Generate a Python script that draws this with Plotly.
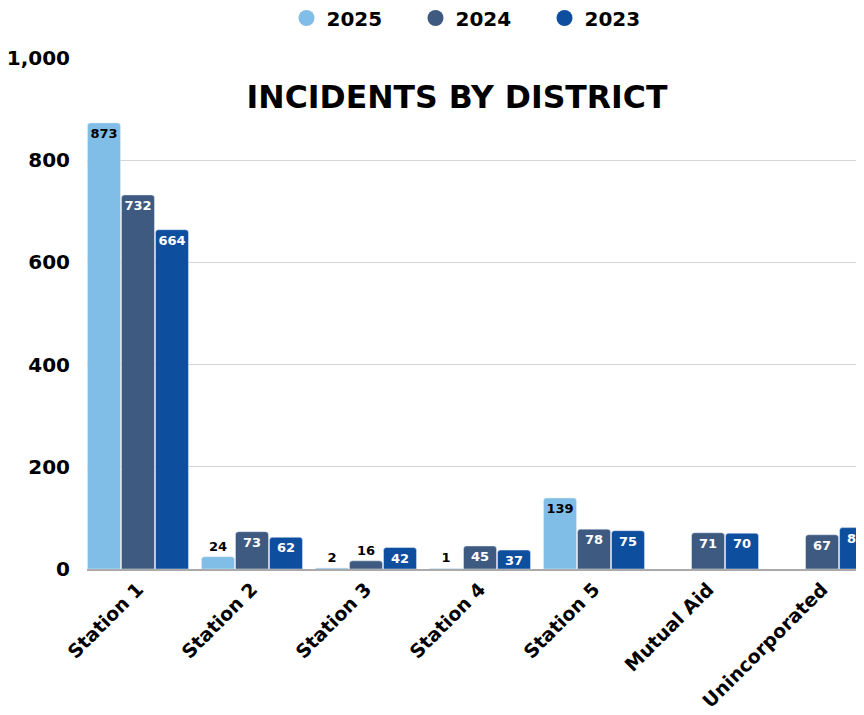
import plotly.graph_objects as go

categories = ["Station 1", "Station 2", "Station 3", "Station 4", "Station 5", "Mutual Aid", "Unincorporated"]
series_names = ["2025", "2024", "2023"]
values_2025 = [873, 24, 2, 1, 139, None, None]
values_2024 = [732, 73, 16, 45, 78, 71, 67]
values_2023 = [664, 62, 42, 37, 75, 70, 81]
y_ticks = [0, 200, 400, 600, 800, 1000]

colors = ["#80BDE7", "#3E5A80", "#0E4E9F"]
inside_text_colors = ["#000000", "#FFFFFF", "#FFFFFF"]
FONT = "DejaVu Sans"

OFF = 8  # page body margin offset
W, H = 864 - OFF, 715 - OFF

fig = go.Figure()
for name, vals, col, tcol in zip(series_names, [values_2025, values_2024, values_2023], colors, inside_text_colors):
    positions = ["inside" if (v is not None and v >= 30) else "outside" for v in vals]
    fig.add_trace(go.Bar(
        x=categories, y=vals, name=name, marker_color=col,
        text=[("" if v is None else str(v)) for v in vals],
        textposition=positions, insidetextanchor="end", textangle=0,
        insidetextfont=dict(color=tcol, size=13, family=FONT, weight="bold"),
        outsidetextfont=dict(color="#000000", size=13, family=FONT, weight="bold"),
        constraintext="none", showlegend=False,
        hoverinfo="x+y+name",
    ))
    fig.add_trace(go.Scatter(
        x=[None], y=[None], mode="markers", name=name,
        marker=dict(symbol="circle", size=22, color=col), showlegend=True,
    ))

fig.update_layout(
    width=W, height=H,
    paper_bgcolor="white", plot_bgcolor="white",
    margin=dict(l=87 - OFF, r=0, t=58 - OFF, b=H - (569 - OFF)),
    barmode="group", bargap=0.105, bargroupgap=0.03, barcornerradius=3,
    font=dict(family=FONT, color="#000000"),
    title=dict(text="INCIDENTS BY DISTRICT", x=(457 - OFF) / W, xref="container", xanchor="center",
               y=1 - (97 - OFF) / H, yref="container", yanchor="middle",
               font=dict(size=31.5, family=FONT, weight="bold", color="#000000")),
    legend=dict(orientation="h", x=(480 - OFF) / W, xref="container", xanchor="center",
                y=1 - (18 - OFF) / H, yref="container", yanchor="middle",
                font=dict(size=20, family=FONT, weight="bold", color="#000000"),
                itemsizing="trace", traceorder="normal", entrywidth=84),
    xaxis=dict(type="category", range=[-0.447, 6.368], tickangle=-45,
               tickfont=dict(size=19, family=FONT, weight="bold", color="#000000"),
               showline=True, linecolor="#AAAAAA", linewidth=1.5, showgrid=False,
               automargin=False, ticks=""),
    yaxis=dict(range=[0, 1000], tickvals=y_ticks, tickformat=",",
               tickfont=dict(size=20, family=FONT, weight="bold", color="#000000"),
               showgrid=True, gridcolor="#D5D5D5", gridwidth=1, zeroline=False,
               ticklabelstandoff=16, automargin=False, ticks=""),
)

fig.write_html("out.html")
